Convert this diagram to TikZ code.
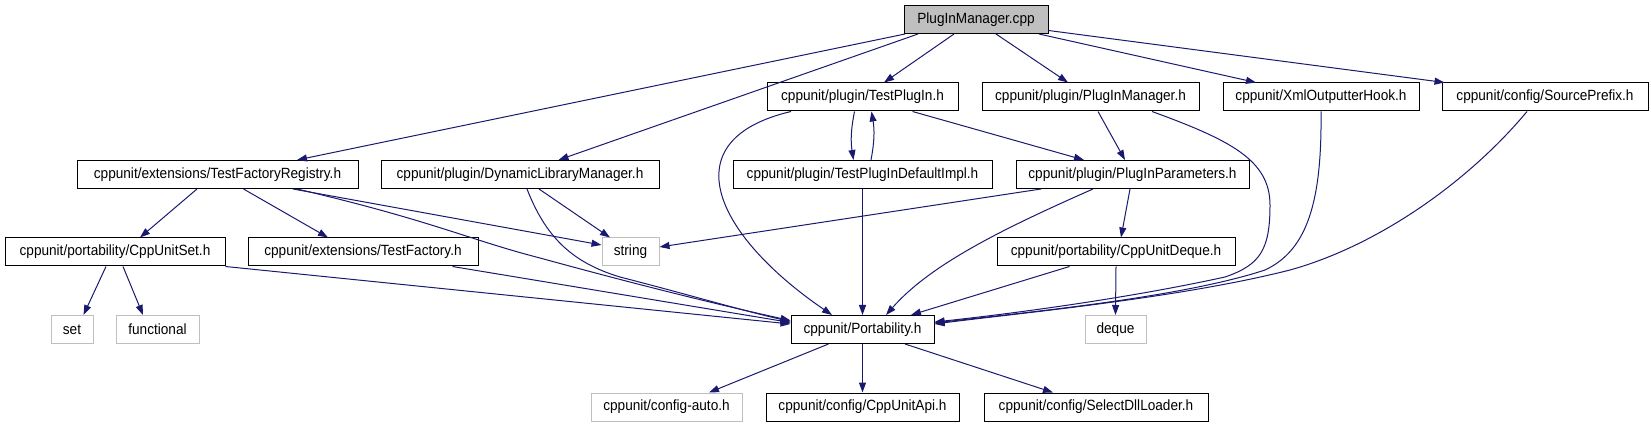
\documentclass[tikz,border=0pt]{standalone}
\usepackage{fontspec}
\setmainfont[FakeStretch=0.92]{Liberation Sans}
\usetikzlibrary{arrows.meta}
\definecolor{edgeblue}{RGB}{25,25,112}
\definecolor{nodegray}{RGB}{191,191,191}

\begin{document}
\begin{tikzpicture}[
    x=1pt, y=-1pt,
    every node/.style={font=\fontsize{14.8}{17}\selectfont},
    file/.style={rectangle, draw=black, line width=1pt, fill=white, minimum height=28pt, inner xsep=2pt, inner ysep=0pt},
    sysfile/.style={file, draw=nodegray},
    mainfile/.style={file, fill=nodegray},
    arrow/.style={-{Triangle[length=10pt, width=7pt]}, line width=1pt, draw=edgeblue}
]
\useasboundingbox (0,0) rectangle (1651,427);
\node[mainfile, minimum width=144pt] (cpp) at (976,19.5) {PlugInManager.cpp};
\node[file, minimum width=191pt] (tplugin) at (862.5,97) {cppunit/plugin/TestPlugIn.h};
\node[file, minimum width=217pt] (pmgr) at (1090.5,97) {cppunit/plugin/PlugInManager.h};
\node[file, minimum width=196pt] (xmlhook) at (1321,97) {cppunit/XmlOutputterHook.h};
\node[file, minimum width=206pt] (srcprefix) at (1545,97) {cppunit/config/SourcePrefix.h};
\node[file, minimum width=281pt] (registry) at (217.5,174.5) {cppunit/extensions/TestFactoryRegistry.h};
\node[file, minimum width=278pt] (dynlib) at (520,174.5) {cppunit/plugin/DynamicLibraryManager.h};
\node[file, minimum width=259pt] (defimpl) at (862.5,174.5) {cppunit/plugin/TestPlugInDefaultImpl.h};
\node[file, minimum width=233pt] (params) at (1132.5,174.5) {cppunit/plugin/PlugInParameters.h};
\node[file, minimum width=220pt] (cppset) at (115,252) {cppunit/portability/CppUnitSet.h};
\node[file, minimum width=230pt] (tfactory) at (363,252) {cppunit/extensions/TestFactory.h};
\node[sysfile, minimum width=57pt] (string) at (630.5,252) {string};
\node[file, minimum width=238pt] (cppdeque) at (1116,252) {cppunit/portability/CppUnitDeque.h};
\node[sysfile, minimum width=42pt] (set) at (72,329.5) {set};
\node[sysfile, minimum width=83pt] (functional) at (157.5,329.5) {functional};
\node[file, minimum width=143pt] (portab) at (862.5,329.5) {cppunit/Portability.h};
\node[sysfile, minimum width=61pt] (deque) at (1115.5,329.5) {deque};
\node[sysfile, minimum width=151pt] (cfgauto) at (666.5,407) {cppunit/config-auto.h};
\node[file, minimum width=193pt] (unitapi) at (862.5,407) {cppunit/config/CppUnitApi.h};
\node[file, minimum width=224pt] (dllloader) at (1096,407) {cppunit/config/SelectDllLoader.h};
\draw[arrow] ([xshift=-71pt]cpp.south) -- ([xshift=79.5pt]registry.north);
\draw[arrow] ([xshift=-58pt]cpp.south) -- ([xshift=38.5pt]dynlib.north);
\draw[arrow] ([xshift=-22pt]cpp.south) -- ([xshift=21.5pt]tplugin.north);
\draw[arrow] ([xshift=20pt]cpp.south) -- ([xshift=-22.5pt]pmgr.north);
\draw[arrow] ([xshift=63pt]cpp.south) -- ([xshift=-65pt]xmlhook.north);
\draw[arrow] ([yshift=3.5pt]cpp.south east) -- ([xshift=3pt]srcprefix.north west);
\draw[arrow] ([xshift=-8pt]tplugin.south) to[bend right=10] ([xshift=-9pt]defimpl.north);
\draw[arrow] ([xshift=8.5pt]defimpl.north) to[bend right=10] ([xshift=9pt]tplugin.south);
\draw[arrow] ([xshift=50pt]tplugin.south) -- ([xshift=-48.5pt]params.north);
\draw[arrow] ([xshift=-71.5pt]tplugin.south) .. controls (670,140) and (715,235) .. ([xshift=-30.5pt]portab.north);
\draw[arrow] ([xshift=7.5pt]pmgr.south) -- ([xshift=-7.5pt]params.north);
\draw[arrow] ([xshift=61.5pt]pmgr.south) .. controls (1230,140) and (1270,160) .. (1270,205)
    .. controls (1270,250) and (1260,265) .. (1225,277) .. controls (1120,300) and (1000,315) .. ([yshift=7.5pt]portab.east);
\draw[arrow] (xmlhook.south) .. controls (1322,200) and (1308,250) .. (1265,270)
    .. controls (1180,298) and (1020,313) .. ([yshift=6.5pt]portab.east);
\draw[arrow] ([xshift=-18pt]srcprefix.south) .. controls (1470,180) and (1380,245) .. (1290,270)
    .. controls (1180,298) and (1020,313) .. ([yshift=5.5pt]portab.east);
\draw[arrow] ([xshift=-20.5pt]registry.south) -- ([xshift=25pt]cppset.north);
\draw[arrow] ([xshift=26pt]registry.south) -- ([xshift=-35pt]tfactory.north);
\draw[arrow] ([xshift=75.5pt]registry.south) -- ([yshift=7pt]string.west);
\draw[arrow] ([xshift=79.5pt]registry.south) .. controls (430,220) and (470,240) .. (540,258)
    .. controls (620,280) and (710,303) .. ([yshift=9pt]portab.west);
\draw[arrow] ([xshift=19pt]dynlib.south) -- ([xshift=-20.5pt]string.north);
\draw[arrow] ([xshift=7pt]dynlib.south) .. controls (545,235) and (570,262) .. (620,277)
    .. controls (690,295) and (740,310) .. ([yshift=8pt]portab.west);
\draw[arrow] (defimpl.south) -- (portab.north);
\draw[arrow] ([xshift=-91.5pt]params.south) -- ([yshift=5pt]string.east);
\draw[arrow] ([xshift=-39.5pt]params.south) .. controls (1000,230) and (930,265) .. ([xshift=23.5pt]portab.north);
\draw[arrow] ([xshift=-2.5pt]params.south) -- ([xshift=5pt]cppdeque.north);
\draw[arrow] ([xshift=-46.5pt]cppdeque.south) -- ([xshift=48.5pt]portab.north);
\draw[arrow] (cppdeque.south) -- (deque.north);
\draw[arrow] ([xshift=-9pt]cppset.south) -- ([xshift=11.5pt]set.north);
\draw[arrow] ([xshift=8pt]cppset.south) -- ([xshift=-14.5pt]functional.north);
\draw[arrow] (cppset.south east) -- ([yshift=5.5pt]portab.west);
\draw[arrow] ([xshift=89.5pt]tfactory.south) -- ([yshift=7pt]portab.west);
\draw[arrow] ([xshift=-34pt]portab.south) -- ([xshift=42.5pt]cfgauto.north);
\draw[arrow] (portab.south) -- (unitapi.north);
\draw[arrow] ([xshift=42.5pt]portab.south) -- ([xshift=-43pt]dllloader.north);
\end{tikzpicture}
\end{document}
